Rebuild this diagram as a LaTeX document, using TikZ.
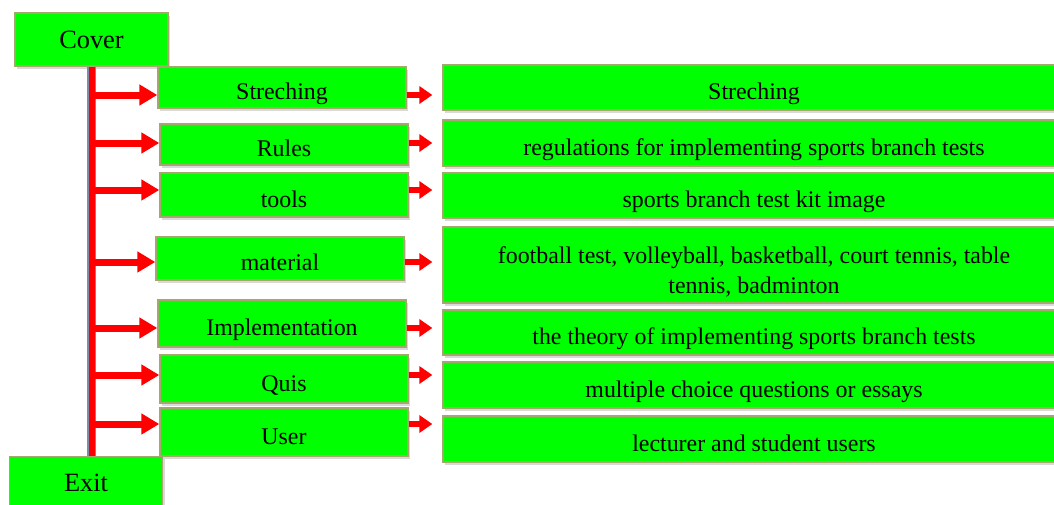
\documentclass[tikz,border=0pt]{standalone}
\usepackage{fontspec}
\setmainfont{Liberation Serif}
\usetikzlibrary{arrows.meta, positioning, shadows}
\definecolor{hijau}{HTML}{00FF00}
\definecolor{tepi}{HTML}{A4A86C}
\definecolor{merah}{HTML}{FF0000}
\definecolor{bayang}{HTML}{7A8CA8}
\tikzset{
  every picture/.style={x=0.02cm, y=-0.02cm},
  kotak/.style={draw=tepi, fill=hijau, line width=0.8pt, inner sep=0pt, align=center,
              drop shadow={shadow xshift=1.2pt, shadow yshift=-1.6pt, opacity=0.3},
              font=\fontsize{13.6}{17}\selectfont},
  satu/.style={text height=14pt, text depth=0pt},
  dua/.style={text height=34pt},
  menu/.style={kotak, minimum width=4.96cm},
  isi/.style={kotak, minimum width=12.44cm},
  ujung/.style={kotak, minimum width=3.06cm, minimum height=1.06cm, font=\fontsize{15}{18}\selectfont},
  batang/.style={merah, line width=0.12cm, preaction={draw=bayang, line width=0.17cm}},
  panah/.style={merah, line width=0.14cm, -{Triangle[length=0.36cm, width=0.4cm]}},
  panahk/.style={merah, line width=0.12cm, -{Triangle[length=0.26cm, width=0.34cm]}, shorten >=0.2cm},
}
\begin{document}
\begin{tikzpicture}
  \useasboundingbox (0,0) rectangle (1054,504);
  \node[ujung] (cover) at (91.5,39.5) {Cover};
  \draw[batang] (cover.south) -- (91.5,456);
  \node[ujung] (exit) at (86,483) {Exit};
  \foreach \t/\x/\y/\h/\a [count=\i] in {Streching/282/87.5/0.82/95, Rules/284/144.5/0.82/143, tools/284/195/0.88/190, material/280/258.5/0.86/262, Implementation/282/323.5/0.94/328, Quis/284/379/0.96/375, User/284/432/0.96/424} {
    \node[menu, satu, minimum height=\h cm] (m\i) at (\x,\y) {\t};
    \coordinate (b\i) at (95,\a);
  }
  \foreach \t/\y/\h/\o [count=\i] in {{Streching}/87.5/0.9/satu, {regulations for implementing sports branch tests}/143/0.92/satu, {sports branch test kit image}/195.5/0.9/satu, {football test, volleyball, basketball, court tennis, table\\tennis, badminton}/265/1.52/dua, {the theory of implementing sports branch tests}/332.5/0.9/satu, {multiple choice questions or essays}/385/0.92/satu, {lecturer and student users}/439/0.92/satu} {
    \node[isi, \o, minimum height=\h cm] (s\i) at (754,\y) {\t};
  }
  \foreach \i in {1,...,7} {
    \draw[panah] (b\i) -- (m\i.west |- b\i);
    \draw[panahk] (m\i.east |- b\i) -- (s\i.west |- b\i);
  }
\end{tikzpicture}
\end{document}
